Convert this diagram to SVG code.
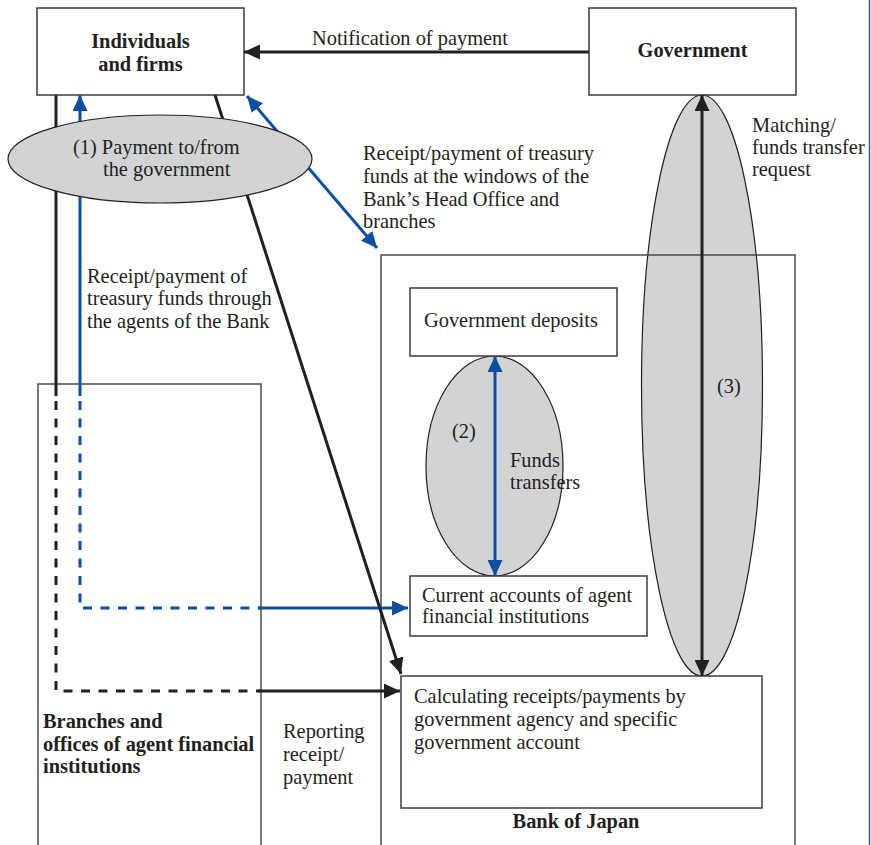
<svg xmlns="http://www.w3.org/2000/svg" width="871" height="845" viewBox="0 0 871 845">
<style>
text{font-family:"Liberation Serif","Times New Roman",serif;font-size:20.4px;fill:#231f20}
.b{font-weight:bold}
.box{fill:#fff;stroke:#3c3c3c;stroke-width:1.5}
.frame{fill:none;stroke:#4a4a4a;stroke-width:1.5}
.ell{fill:#d1d3d4;stroke:#231f20;stroke-width:1.2}
.k{fill:none;stroke:#231f20;stroke-width:3}
.u{fill:none;stroke:#0b4ea2;stroke-width:3}
.d{stroke-dasharray:9 8.5}
</style>
<defs>
<marker id="ak" markerUnits="userSpaceOnUse" markerWidth="16" markerHeight="15" refX="16" refY="7.5" orient="auto-start-reverse"><path d="M0,0 L16,7.5 L0,15 z" fill="#231f20"/></marker>
<marker id="au" markerUnits="userSpaceOnUse" markerWidth="16" markerHeight="15" refX="16" refY="7.5" orient="auto-start-reverse"><path d="M0,0 L16,7.5 L0,15 z" fill="#0b4ea2"/></marker>
</defs>
<rect width="871" height="845" fill="#fff"/>
<line x1="869.5" y1="0" x2="869.5" y2="845" stroke="#1f5fbf" stroke-width="1.5"/>

<g id="ellipse2"><ellipse class="ell" cx="494.5" cy="466" rx="68.5" ry="110"/></g>
<g id="ellipse3"><ellipse class="ell" cx="702" cy="385.5" rx="60.5" ry="290.5"/></g>

<g id="bank-of-japan">
<rect class="frame" x="381" y="255" width="414" height="600"/>
<text class="b" x="576" y="828" text-anchor="middle">Bank of Japan</text>
</g>
<g id="branches">
<rect class="frame" x="38" y="384" width="223" height="470"/>
<text class="b" x="43" y="728">Branches and</text>
<text class="b" x="43" y="751">offices of agent financial</text>
<text class="b" x="43" y="773">institutions</text>
</g>
<g id="individuals">
<rect class="box" x="37" y="8" width="207" height="87"/>
<text class="b" x="140.5" y="48" text-anchor="middle">Individuals</text>
<text class="b" x="140.5" y="71" text-anchor="middle">and firms</text>
</g>
<g id="government">
<rect class="box" x="589" y="8" width="207" height="87"/>
<text class="b" x="692.5" y="57" text-anchor="middle">Government</text>
</g>
<g id="government-deposits">
<rect class="box" x="410" y="288" width="207" height="68"/>
<text x="424" y="327">Government deposits</text>
</g>
<g id="current-accounts">
<rect class="box" x="410" y="576" width="237" height="60"/>
<text x="422" y="602">Current accounts of agent</text>
<text x="422" y="623">financial institutions</text>
</g>
<g id="calculating">
<rect class="box" x="401" y="676" width="361" height="132"/>
<text x="414" y="703">Calculating receipts/payments by</text>
<text x="414" y="726">government agency and specific</text>
<text x="414" y="749">government account</text>
</g>

<g id="connectors">
<line class="k" x1="589" y1="52" x2="244" y2="52" marker-end="url(#ak)"/>
<path class="k" d="M56,95 V396"/>
<path class="k d" d="M56,401 V691 H260"/>
<path class="k" d="M258,691 H400" marker-end="url(#ak)"/>
<path class="u" d="M80,396 V95" marker-end="url(#au)"/>
<path class="u d" d="M80,401 V608 H260"/>
<path class="u" d="M258,608 H408" marker-end="url(#au)"/>
<path class="k" d="M215,95 L401,674" marker-end="url(#ak)"/>
<path class="u" d="M247,96 L377,248" marker-start="url(#au)" marker-end="url(#au)"/>
<path class="u" d="M495,356 L495,576" marker-start="url(#au)" marker-end="url(#au)"/>
<path class="k" d="M702,95 L702,676" marker-start="url(#ak)" marker-end="url(#ak)"/>
</g>

<g id="ellipse1">
<ellipse class="ell" cx="160" cy="159" rx="152" ry="44"/>
<text x="73" y="154">(1) Payment to/from</text>
<text x="103" y="176">the government</text>
</g>

<g id="labels">
<text x="312" y="45">Notification of payment</text>
<text x="363" y="160">Receipt/payment of treasury</text>
<text x="363" y="183">funds at the windows of the</text>
<text x="363" y="206">Bank’s Head Office and</text>
<text x="363" y="228">branches</text>
<text x="752" y="132">Matching/</text>
<text x="752" y="154">funds transfer</text>
<text x="752" y="176">request</text>
<text x="87" y="283">Receipt/payment of</text>
<text x="87" y="305">treasury funds through</text>
<text x="87" y="328">the agents of the Bank</text>
<text x="452" y="438">(2)</text>
<text x="510" y="467">Funds</text>
<text x="510" y="489">transfers</text>
<text x="717" y="393">(3)</text>
<text x="283" y="738">Reporting</text>
<text x="283" y="761">receipt/</text>
<text x="283" y="784">payment</text>
</g>
</svg>
